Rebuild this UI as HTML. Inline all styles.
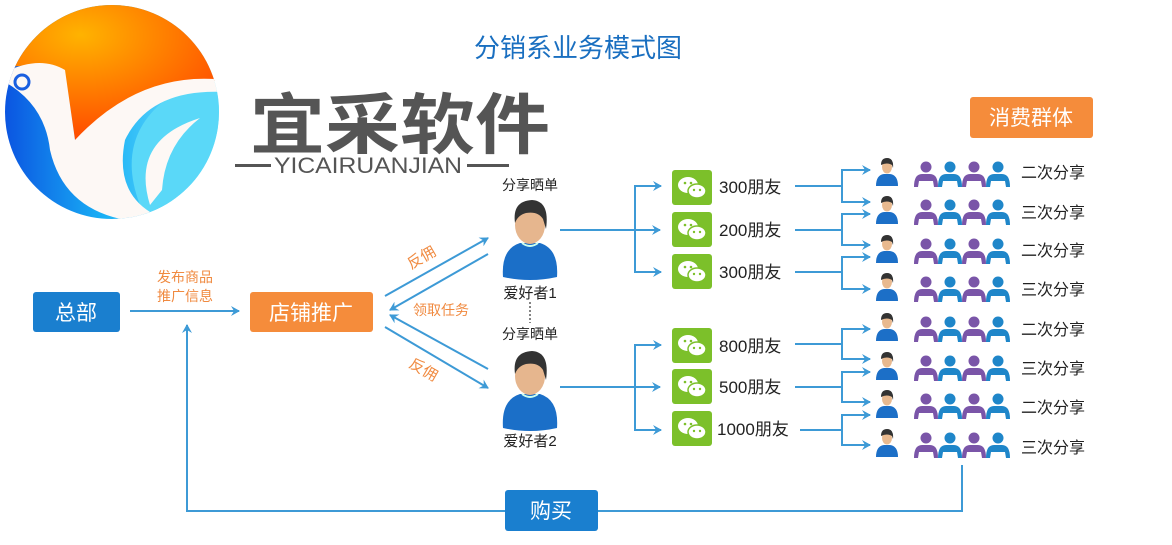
<!DOCTYPE html>
<html><head><meta charset="utf-8"><style>
html,body{margin:0;padding:0;background:#fff}
svg{display:block}
text{font-family:"Liberation Sans","Noto Sans CJK SC",sans-serif}
</style></head><body>
<svg width="1172" height="545" viewBox="0 0 1172 545" xmlns="http://www.w3.org/2000/svg">
<defs>
<radialGradient id="og" cx="0.35" cy="0.25" r="0.75"><stop offset="0" stop-color="#ffb300"/><stop offset="1" stop-color="#ff4a00"/></radialGradient>
<linearGradient id="bg" x1="0" y1="0" x2="1" y2="0"><stop offset="0" stop-color="#0a50e0"/><stop offset="0.45" stop-color="#19b0f5"/><stop offset="1" stop-color="#8ef0ff"/></linearGradient>
<clipPath id="cc"><circle cx="112" cy="112" r="107"/></clipPath>
<marker id="ar" markerWidth="10" markerHeight="10" refX="8" refY="5" orient="auto" markerUnits="userSpaceOnUse"><path d="M0,0 L9,5 L0,10 L3,5 Z" fill="#3d9ad6"/></marker>
<g id="bp"><ellipse cx="0" cy="-7" rx="5" ry="6.5" fill="#e8b98f"/><path d="M-6,-9 Q-6,-16 0,-16 Q7,-16 6,-6 L5,-9 Q0,-12 -6,-9Z" fill="#333"/><path d="M-11,12 Q-11,1 -3,0 L3,0 Q11,1 11,12Z" fill="#1c6fc7"/></g>
<g id="sp"><circle cx="0" cy="-9" r="5.5" fill="currentColor"/><path d="M-12,11 Q-12,-2 -4,-2 L4,-2 Q12,-2 12,11 L8,11 L7,5 L-7,5 L-8,11Z" fill="currentColor"/></g>
<g id="grp"><use href="#sp" x="0" style="color:#7a55a8"/><use href="#sp" x="24" style="color:#1f86c9"/><use href="#sp" x="48" style="color:#7a55a8"/><use href="#sp" x="72" style="color:#1f86c9"/></g>
<g id="wx"><rect x="0" y="0" width="40" height="35" rx="3" fill="#7cc02a"/><ellipse cx="16" cy="15" rx="10" ry="8" fill="#fff"/><ellipse cx="25" cy="21" rx="9" ry="7" fill="#fff" stroke="#7cc02a" stroke-width="1.5"/><circle cx="13" cy="13" r="1.3" fill="#7cc02a"/><circle cx="19" cy="13" r="1.3" fill="#7cc02a"/><circle cx="22" cy="20" r="1.2" fill="#7cc02a"/><circle cx="28" cy="20" r="1.2" fill="#7cc02a"/></g>
<g id="man"><path d="M-27,50 Q-29,22 -10,16 L10,16 Q29,22 27,50 Q0,56 -27,50Z" fill="#1b6fc8"/><path d="M-8,16 Q0,22 8,16" stroke="#cfe" stroke-width="2" fill="none"/><ellipse cx="0" cy="-2" rx="15" ry="19" fill="#e6b68e"/><path d="M-15,-4 Q-18,-26 2,-27 Q20,-26 16,2 L13,-8 Q8,-16 -4,-14 Q-12,-12 -15,-4Z" fill="#333"/></g>
</defs>

<!-- logo -->
<g clip-path="url(#cc)">
<rect x="0" y="0" width="230" height="230" fill="url(#bg)"/>
<path d="M0,0 H230 V82 Q150,72 75,140 L65,72 Q30,60 0,70 Z" fill="url(#og)"/>
<path d="M140,205 Q115,140 165,100 Q200,80 230,95 L230,230 L150,230Z" fill="#5ad8f8"/>
<path d="M5,72 Q40,55 65,70 L75,140 Q140,70 225,80 L225,92 Q150,88 125,140 Q115,190 150,212 L140,222 Q65,215 50,150 Q45,105 5,82Z" fill="#fdf8f5"/>
<path d="M150,205 Q130,140 200,118 Q165,145 162,190Z" fill="#fdf8f5"/>
</g>
<circle cx="22" cy="82" r="7" fill="none" stroke="#1a5fe0" stroke-width="3"/>

<text x="250" y="148" font-size="66" font-weight="bold" fill="#555" textLength="300" lengthAdjust="spacingAndGlyphs">宜采软件</text>
<rect x="235" y="164" width="36" height="3" fill="#555"/>
<text x="274" y="173" font-size="22" fill="#555" textLength="188" lengthAdjust="spacingAndGlyphs">YICAIRUANJIAN</text>
<rect x="467" y="164" width="42" height="3" fill="#555"/>

<text x="578" y="57" font-size="26" fill="#1a6fc0" text-anchor="middle">分销系业务模式图</text>

<!-- boxes -->
<rect x="33" y="292" width="87" height="40" rx="3" fill="#1a7fcf"/>
<text x="76" y="320" font-size="21" fill="#fff" text-anchor="middle">总部</text>
<rect x="250" y="292" width="123" height="40" rx="3" fill="#f58c3b"/>
<text x="311" y="320" font-size="21" fill="#fff" text-anchor="middle">店铺推广</text>
<rect x="970" y="97" width="123" height="41" rx="3" fill="#f58c3b"/>
<text x="1031" y="125" font-size="21" fill="#fff" text-anchor="middle">消费群体</text>

<g stroke="#3d9ad6" stroke-width="2" fill="none">
<line x1="130" y1="311" x2="239" y2="311" marker-end="url(#ar)"/>
<polyline points="962,465 962,511 598,511"/>
<polyline points="505,511 187,511 187,325" marker-end="url(#ar)"/>
<line x1="385" y1="296" x2="488" y2="238" marker-end="url(#ar)"/>
<line x1="488" y1="254" x2="390" y2="310" marker-end="url(#ar)"/>
<line x1="488" y1="369" x2="390" y2="315" marker-end="url(#ar)"/>
<line x1="385" y1="327" x2="488" y2="388" marker-end="url(#ar)"/>
<line x1="560" y1="230" x2="660" y2="230" marker-end="url(#ar)"/>
<polyline points="660,186 635,186 635,272 660,272"/>
<line x1="650" y1="186" x2="661" y2="186" marker-end="url(#ar)"/>
<line x1="650" y1="272" x2="661" y2="272" marker-end="url(#ar)"/>
<line x1="560" y1="387" x2="660" y2="387" marker-end="url(#ar)"/>
<polyline points="660,345 635,345 635,430 660,430"/>
<line x1="650" y1="345" x2="661" y2="345" marker-end="url(#ar)"/>
<line x1="650" y1="430" x2="661" y2="430" marker-end="url(#ar)"/>
<line x1="795" y1="186" x2="842" y2="186"/><polyline points="868,170 842,170 842,202 868,202"/>
<line x1="795" y1="230" x2="842" y2="230"/><polyline points="868,214 842,214 842,245 868,245"/>
<line x1="795" y1="272" x2="842" y2="272"/><polyline points="868,257 842,257 842,289 868,289"/>
<line x1="795" y1="344" x2="842" y2="344"/><polyline points="868,329 842,329 842,359 868,359"/>
<line x1="795" y1="387" x2="842" y2="387"/><polyline points="868,372 842,372 842,402 868,402"/>
<line x1="800" y1="430" x2="842" y2="430"/><polyline points="868,415 842,415 842,445 868,445"/>
</g>
<g stroke="#3d9ad6" stroke-width="2">
<line x1="860" y1="170" x2="870" y2="170" marker-end="url(#ar)"/>
<line x1="860" y1="202" x2="870" y2="202" marker-end="url(#ar)"/>
<line x1="860" y1="214" x2="870" y2="214" marker-end="url(#ar)"/>
<line x1="860" y1="245" x2="870" y2="245" marker-end="url(#ar)"/>
<line x1="860" y1="257" x2="870" y2="257" marker-end="url(#ar)"/>
<line x1="860" y1="289" x2="870" y2="289" marker-end="url(#ar)"/>
<line x1="860" y1="329" x2="870" y2="329" marker-end="url(#ar)"/>
<line x1="860" y1="359" x2="870" y2="359" marker-end="url(#ar)"/>
<line x1="860" y1="372" x2="870" y2="372" marker-end="url(#ar)"/>
<line x1="860" y1="402" x2="870" y2="402" marker-end="url(#ar)"/>
<line x1="860" y1="415" x2="870" y2="415" marker-end="url(#ar)"/>
<line x1="860" y1="445" x2="870" y2="445" marker-end="url(#ar)"/>
</g>

<rect x="505" y="490" width="93" height="41" rx="3" fill="#1a7fcf"/>
<text x="551" y="518" font-size="21" fill="#fff" text-anchor="middle">购买</text>

<g fill="#f08a40" font-size="14">
<text x="185" y="282" text-anchor="middle">发布商品</text>
<text x="185" y="301" text-anchor="middle">推广信息</text>
<text x="413" y="315" font-size="14">领取任务</text>
<text transform="translate(424,262) rotate(-30)" text-anchor="middle" font-size="15">反佣</text>
<text transform="translate(421,374) rotate(30)" text-anchor="middle" font-size="15">反佣</text>
</g>

<use href="#man" x="530" y="227"/>
<use href="#man" x="530" y="378"/>
<g font-size="14" fill="#222" text-anchor="middle">
<text x="530" y="190">分享晒单</text>
<text x="530" y="298" font-size="15">爱好者1</text>
<text x="530" y="339">分享晒单</text>
<text x="530" y="446" font-size="15">爱好者2</text>
</g>
<line x1="530" y1="302" x2="530" y2="323" stroke="#333" stroke-width="1.2" stroke-dasharray="2,2"/>

<use href="#wx" x="672" y="170"/>
<use href="#wx" x="672" y="212"/>
<use href="#wx" x="672" y="254"/>
<use href="#wx" x="672" y="328"/>
<use href="#wx" x="672" y="369"/>
<use href="#wx" x="672" y="411"/>
<g font-size="17" fill="#222">
<text x="719" y="193">300朋友</text>
<text x="719" y="236">200朋友</text>
<text x="719" y="278">300朋友</text>
<text x="719" y="352">800朋友</text>
<text x="719" y="393">500朋友</text>
<text x="717" y="435">1000朋友</text>
</g>

<g>
<use href="#bp" x="887" y="174"/><use href="#grp" x="926" y="176"/>
<use href="#bp" x="887" y="212"/><use href="#grp" x="926" y="214"/>
<use href="#bp" x="887" y="251"/><use href="#grp" x="926" y="253"/>
<use href="#bp" x="887" y="289"/><use href="#grp" x="926" y="291"/>
<use href="#bp" x="887" y="329"/><use href="#grp" x="926" y="331"/>
<use href="#bp" x="887" y="368"/><use href="#grp" x="926" y="370"/>
<use href="#bp" x="887" y="406"/><use href="#grp" x="926" y="408"/>
<use href="#bp" x="887" y="445"/><use href="#grp" x="926" y="447"/>
</g>
<g font-size="16" fill="#222">
<text x="1021" y="178">二次分享</text>
<text x="1021" y="218">三次分享</text>
<text x="1021" y="256">二次分享</text>
<text x="1021" y="295">三次分享</text>
<text x="1021" y="335">二次分享</text>
<text x="1021" y="374">三次分享</text>
<text x="1021" y="413">二次分享</text>
<text x="1021" y="453">三次分享</text>
</g>
</svg>
</body></html>
